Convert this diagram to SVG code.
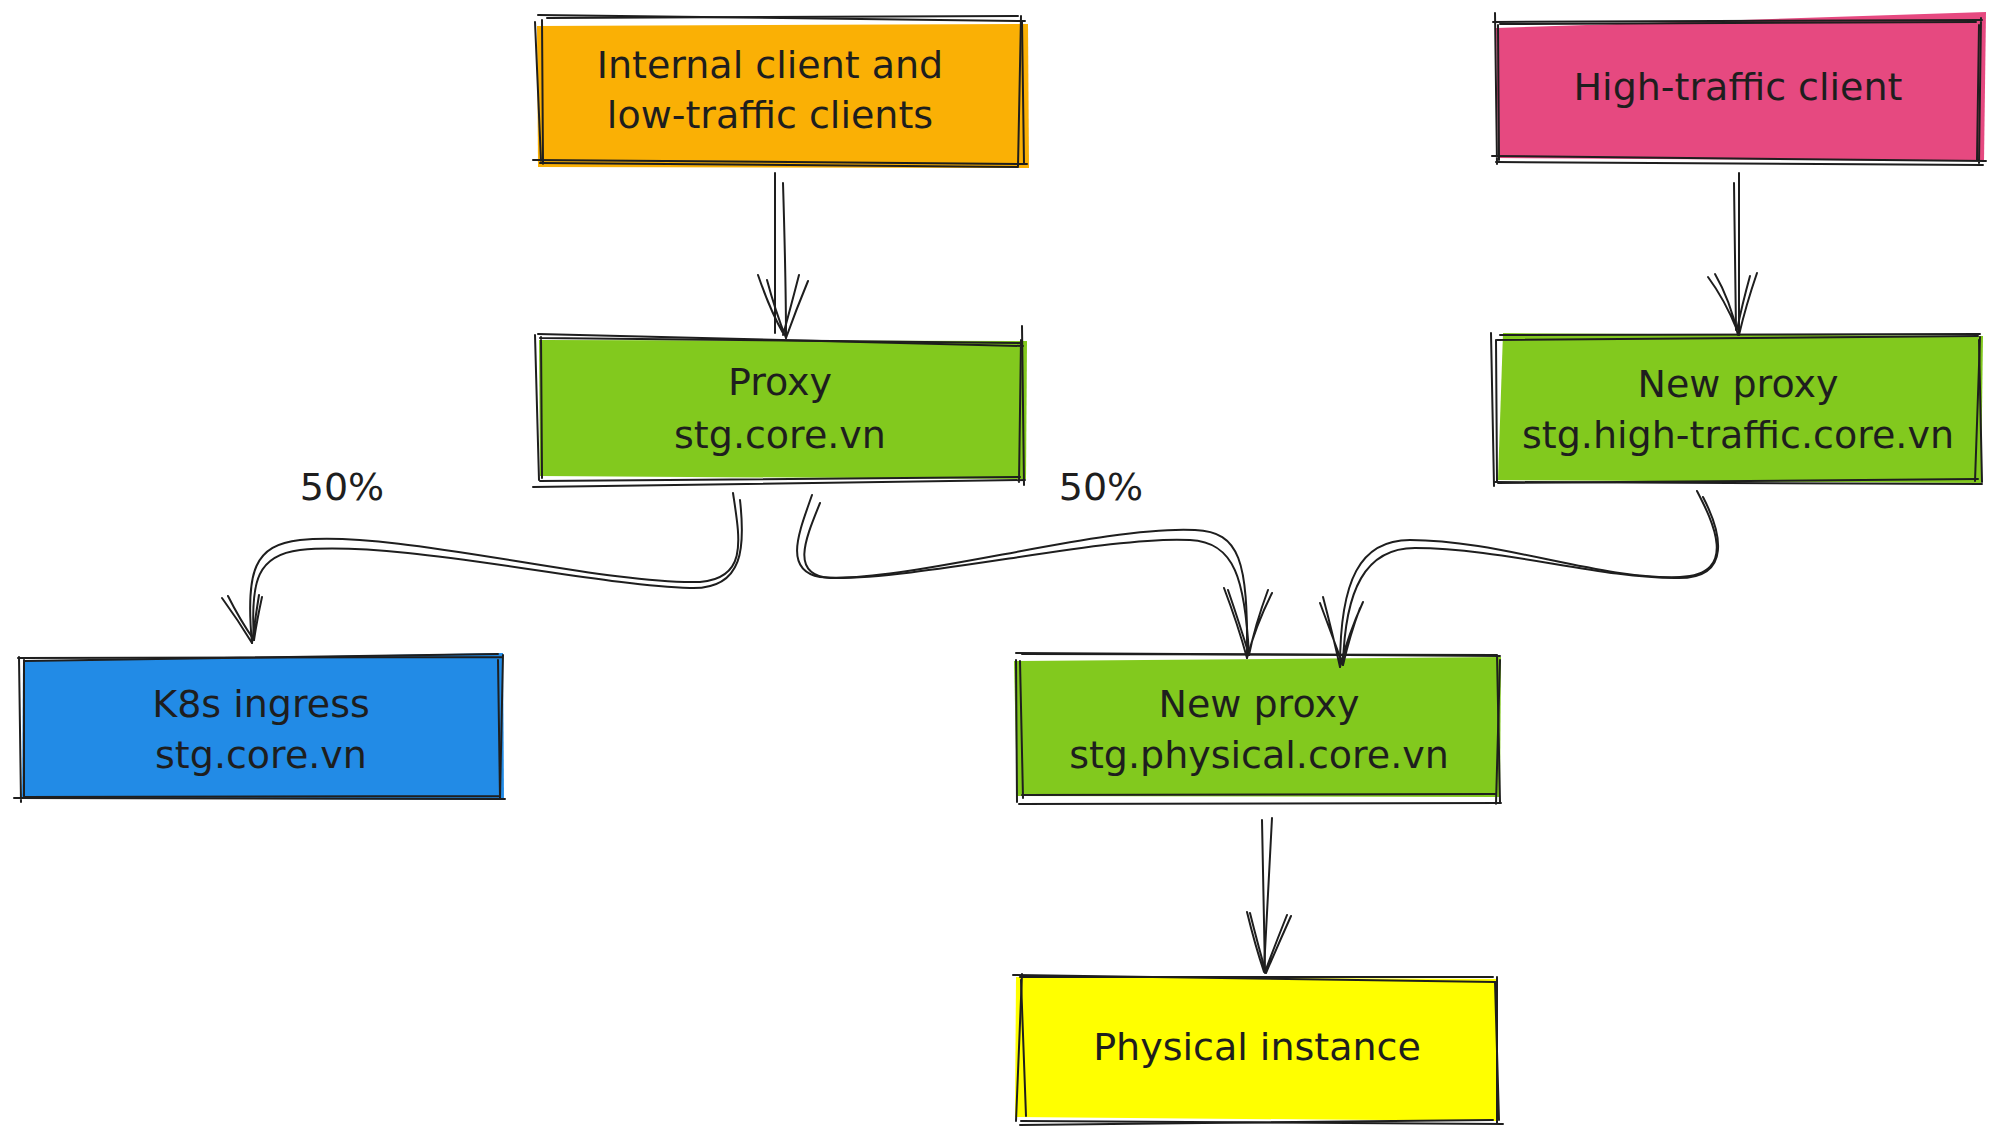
<svg xmlns="http://www.w3.org/2000/svg" width="2000" height="1140" viewBox="0 0 2000 1140">
<style>
  .s{fill:none;stroke:#1e1e1e;stroke-width:2;stroke-linecap:round;stroke-linejoin:round}
  .a{fill:none;stroke:#1e1e1e;stroke-width:2;stroke-linecap:round}
  .t{font-family:"DejaVu Sans","Liberation Sans",sans-serif;font-size:38px;fill:#1e1e1e;text-anchor:middle}
</style>
<rect width="2000" height="1140" fill="#ffffff"/>

<g id="internal-clients">
  <polygon points="537,26 1028,24 1029,168 538,167" fill="#fab005"/>
  <path class="s" d="M538 15 L1025 21 M1021 16 L1018 166 M1027 164 L533 160 M541 161 L535 22"/>
  <path class="s" d="M547 18 L1018 16 M1022 22 L1024 164 M1018 167 L540 163 M542 20 L543 164"/>
  <text class="t" x="770" y="78">Internal client and</text>
  <text class="t" x="770" y="128">low-traffic clients</text>
</g>

<g id="high-traffic-client">
  <polygon points="1496,28 1986,12 1984,161 1498,158" fill="#e64980"/>
  <path class="s" d="M1493 22 L1982 20 M1981 18 L1979 163 M1986 161 L1492 156 M1495 13 L1497 164"/>
  <path class="s" d="M1500 24 L1976 22 M1979 25 L1977 160 M1983 165 L1496 162 M1498 25 L1499 160"/>
  <text class="t" x="1738" y="100">High-traffic client</text>
</g>

<g id="proxy">
  <polygon points="539,340 1027,341 1026,479 540,476" fill="#82c91e"/>
  <path class="s" d="M538 334 L1023 346 M1021 340 L1019 482 M1025 480 L533 487 M535 335 L539 480"/>
  <path class="s" d="M540 338 L1020 343 M1022 326 L1024 485 M1020 477 L540 481 M541 337 L542 478"/>
  <text class="t" x="780" y="395">Proxy</text>
  <text class="t" x="780" y="448">stg.core.vn</text>
</g>

<g id="new-proxy-high-traffic">
  <polygon points="1503,333 1983,336 1981,483 1498,480" fill="#82c91e"/>
  <path class="s" d="M1497 340 L1978 336 M1980 337 L1975 481 M1982 484 L1495 482 M1491 333 L1494 486"/>
  <path class="s" d="M1500 335 L1980 334 M1979 340 L1982 482 M1978 479 L1498 483 M1496 340 L1497 482"/>
  <text class="t" x="1738" y="397">New proxy</text>
  <text class="t" x="1738" y="448">stg.high-traffic.core.vn</text>
</g>

<g id="k8s-ingress">
  <polygon points="23,661 503,653 504,800 22,798" fill="#228be6"/>
  <path class="s" d="M18 658 L502 657 M503 655 L500 798 M505 799 L14 798 M19 657 L21 802"/>
  <path class="s" d="M24 661 L498 654 M498 660 L500 797 M500 796 L24 797 M24 660 L24 796"/>
  <text class="t" x="261" y="717">K8s ingress</text>
  <text class="t" x="261" y="768">stg.core.vn</text>
</g>

<g id="new-proxy-physical">
  <polygon points="1014,661 1501,657 1500,797 1017,796" fill="#82c91e"/>
  <path class="s" d="M1016 653 L1500 656 M1500 660 L1496 804 M1501 803 L1019 804 M1016 660 L1017 802"/>
  <path class="s" d="M1022 654 L1497 655 M1497 655 L1500 802 M1496 794 L1022 795 M1020 661 L1023 798"/>
  <text class="t" x="1259" y="717">New proxy</text>
  <text class="t" x="1259" y="768">stg.physical.core.vn</text>
</g>

<g id="physical-instance">
  <polygon points="1016,977 1498,979 1497,1121 1015,1117" fill="#ffff00"/>
  <path class="s" d="M1013 975 L1496 982 M1497 977 L1497 1124 M1503 1124 L1021 1121 M1022 974 L1016 1121"/>
  <path class="s" d="M1020 977 L1493 977 M1495 982 L1499 1120 M1493 1120 L1020 1125 M1021 980 L1026 1116"/>
  <text class="t" x="1257" y="1060">Physical instance</text>
</g>

<g id="labels">
  <text class="t" x="342" y="500">50%</text>
  <text class="t" x="1101" y="500">50%</text>
</g>

<g id="connectors">
  <!-- internal -> proxy -->
  <path class="a" d="M775 173 L775 333"/>
  <path class="a" d="M783 183 C785 250 786 300 786 338"/>
  <path class="a" d="M758 275 Q770 310 783 333 M767 280 Q775 310 786 338 M799 275 Q790 310 783 335 M808 281 Q796 310 786 338"/>

  <!-- high-traffic client -> new proxy high-traffic -->
  <path class="a" d="M1739 173 L1739 335"/>
  <path class="a" d="M1734 183 L1736 330"/>
  <path class="a" d="M1708 277 Q1725 300 1737 330 M1715 274 Q1730 300 1738 335 M1750 276 Q1742 305 1737 330 M1757 273 Q1746 305 1739 335"/>

  <!-- new proxy physical -> physical instance -->
  <path class="a" d="M1262 820 L1265 973"/>
  <path class="a" d="M1272 818 L1264 970"/>
  <path class="a" d="M1247 912 Q1255 945 1264 972 M1250 913 Q1258 945 1266 973 M1287 915 Q1275 945 1265 972 M1291 916 Q1278 945 1266 973"/>

  <!-- proxy -> k8s ingress (50%) -->
  <path class="a" d="M733 493 C740 540 748 578 700 582 C600 585 400 530 300 540 C255 545 245 570 252 643"/>
  <path class="a" d="M740 500 C745 545 745 590 690 588 C590 585 400 540 300 550 C258 555 250 580 254 640"/>
  <path class="a" d="M222 598 Q238 620 252 643 M228 596 Q240 620 254 640 M259 595 Q255 620 252 643 M262 597 Q257 620 254 640"/>

  <!-- proxy -> new proxy physical (50%) -->
  <path class="a" d="M812 495 C800 530 782 570 820 577 C900 585 1100 525 1195 530 C1240 532 1248 560 1247 658"/>
  <path class="a" d="M820 503 C805 540 790 575 830 578 C920 580 1110 535 1190 540 C1235 542 1245 580 1249 655"/>
  <path class="a" d="M1224 588 Q1238 625 1247 658 M1228 590 Q1240 625 1249 655 M1272 593 Q1256 625 1247 658 M1268 590 Q1255 625 1249 655"/>

  <!-- new proxy high-traffic -> new proxy physical -->
  <path class="a" d="M1697 491 C1712 520 1740 575 1680 577 C1600 580 1500 540 1410 540 C1360 540 1340 580 1340 667"/>
  <path class="a" d="M1703 497 C1720 530 1735 580 1675 578 C1600 578 1500 548 1415 548 C1365 548 1345 590 1343 665"/>
  <path class="a" d="M1323 597 Q1333 635 1340 667 M1320 603 Q1332 635 1343 665 M1363 602 Q1348 635 1340 667 M1360 608 Q1350 635 1343 665"/>
</g>
</svg>
